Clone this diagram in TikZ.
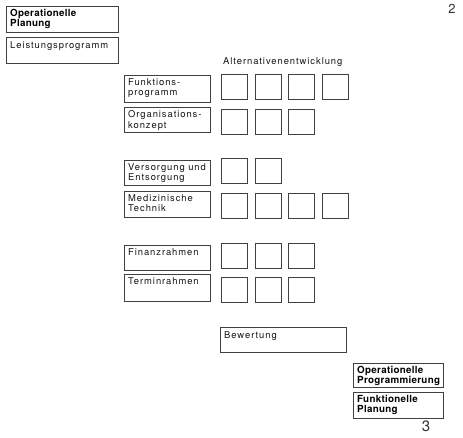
\documentclass[tikz,border=0pt]{standalone}
\usepackage{fontspec}
\usetikzlibrary{calc}
\setmainfont{TeX Gyre Heros}[LetterSpace=10]
\newfontfamily\headfont{TeX Gyre Heros}[LetterSpace=3]
\newfontfamily\numfont{TeX Gyre Heros}
\begin{document}
\begin{tikzpicture}[x=1pt,y=-1pt,
  box/.style={draw=black!75,line width=0.8pt,inner sep=0pt,anchor=north west},
  sq/.style={draw=black!75,line width=0.8pt,inner sep=0pt,anchor=north west,minimum width=26pt,minimum height=25pt},
  txt/.style={anchor=north west,inner sep=0pt,align=left,font=\fontsize{9.4}{10.4}\selectfont,text=black!92},
  head/.style={anchor=north west,inner sep=0pt,align=left,font=\fontsize{9.8}{9.8}\selectfont\headfont\bfseries,text=black}]
\useasboundingbox (0,0) rectangle (463,437);
\fill[white] (0,0) rectangle (463,437);
% page numbers
\node[font=\fontsize{13}{13}\selectfont\numfont,text=black!80,anchor=north] (p2) at (452,0.5) {2};
\node[font=\fontsize{15}{15}\selectfont\numfont,text=black!80] (p3) at (426,426) {3};
% top-left boxes
\node[box,minimum width=112pt,minimum height=26pt] (op) at (6,6) {};
\node[head] (opt) at ($(op.north west)+(4,3)$) {Operationelle\\Planung};
\node[box,minimum width=112pt,minimum height=26pt] (lp) at (6,37) {};
\node[txt] (lpt) at ($(lp.north west)+(4,4)$) {Leistungsprogramm};
% heading
\node[txt,anchor=west] (alt) at (223,62) {Alternativenentwicklung};
% left column
\foreach \n/\y/\h/\t in {fp/75/27/{Funktions-\\programm},ok/107/25/{Organisations-\\konzept},ve/160/25/{Versorgung und\\Entsorgung},mt/191/26/{Medizinische\\Technik},fr/245/25/{Finanzrahmen},tr/274/27/{Terminrahmen}}{
  \node[box,minimum width=86pt,minimum height=\h pt] (\n) at (124,\y) {};
  \node[txt] (\n t) at ($(\n.north west)+(4,3.5)$) {\t};
}
% squares
\foreach \r/\y/\k in {a/74/4,b/109/3,c/158/2,d/193/4,e/243/3,f/277/3}{
  \foreach \i/\x in {1/221,2/255,3/288,4/322}{
    \ifnum\i>\k\else
      \node[sq] (s\r\i) at (\x,\y) {};
    \fi
  }
}
% Bewertung
\node[box,minimum width=126pt,minimum height=25pt] (bw) at (220,327) {};
\node[txt] (bwt) at ($(bw.north west)+(4,4)$) {Bewertung};
% bottom right boxes
\node[box,minimum width=90pt,minimum height=24pt] (opr) at (353,363) {};
\node[head] (oprt) at ($(opr.north west)+(4,3)$) {Operationelle\\Programmierung};
\node[box,minimum width=90pt,minimum height=26pt] (fpl) at (353,392) {};
\node[head] (fplt) at ($(fpl.north west)+(4,3)$) {Funktionelle\\Planung};
\end{tikzpicture}
\end{document}
